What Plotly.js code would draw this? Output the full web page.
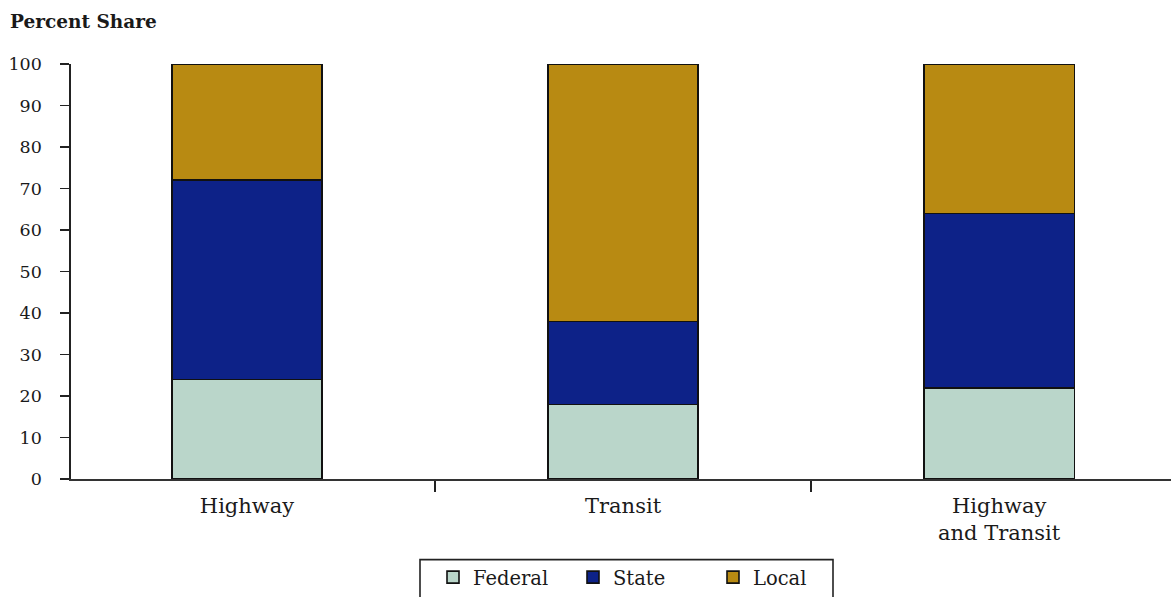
<!DOCTYPE html>
<html>
<head>
<meta charset="utf-8">
<script src="https://cdn.plot.ly/plotly-3.0.1.min.js"></script>
<style>
  html, body { margin: 0; padding: 0; background: #ffffff; }
  #chart { width: 1171px; height: 597px; }
</style>
</head>
<body>
<div id="chart"></div>
<script>
// Funding shares by mode (percent of total)
const categories = ["Highway", "Transit", "Highway<br>and Transit"];
const federalShare = [24, 18, 22];
const stateShare = [48, 20, 42];
const localShare = [28, 62, 36];
const yTickValues = [0, 10, 20, 30, 40, 50, 60, 70, 80, 90, 100];

const FONT = "DejaVu Serif, Liberation Serif, serif";
const INK = "#1a1a1a";

function barTrace(name, values, color) {
  return {
    type: "bar",
    name: name,
    x: categories,
    y: values,
    width: 0.4,
    marker: { color: color, line: { color: "#111111", width: 1.6 } },
    hoverinfo: "name+y"
  };
}

const data = [
  barTrace("Federal", federalShare, "#BAD6CA"),
  barTrace("State", stateShare, "#0D2288"),
  barTrace("Local", localShare, "#B88A12")
];

const layout = {
  width: 1171,
  height: 597,
  barmode: "stack",
  paper_bgcolor: "#ffffff",
  plot_bgcolor: "#ffffff",
  margin: { l: 71, r: 0, t: 64, b: 116 },
  font: { family: FONT, color: INK, size: 18 },
  title: {
    text: "<b>Percent Share</b>",
    font: { family: FONT, size: 18.5, color: INK },
    xref: "container", yref: "container",
    x: 10 / 1171, xanchor: "left",
    y: 1 - 22 / 597, yanchor: "middle"
  },
  xaxis: {
    type: "category",
    range: [-0.468, 2.457],
    showline: true, linecolor: "#333333", linewidth: 1.6,
    ticks: "outside", tickson: "boundaries", ticklen: 11, tickwidth: 1.4, tickcolor: "#222222",
    ticklabelstandoff: 7,
    showgrid: false, zeroline: false,
    tickfont: { family: FONT, size: 21, color: INK }
  },
  xaxis2: {
    overlaying: "x", type: "linear",
    range: [-0.468, 2.457],
    tickmode: "array", tickvals: [0.5, 1.5],
    ticks: "inside", ticklen: 9, tickwidth: 1.4, tickcolor: "#222222",
    showticklabels: false, showgrid: false, zeroline: false, showline: false
  },
  yaxis: {
    range: [0, 100],
    tickmode: "array", tickvals: yTickValues,
    showline: true, linecolor: "#222222", linewidth: 1.6,
    ticks: "outside", ticklen: 9, tickwidth: 1.4, tickcolor: "#222222",
    ticklabelstandoff: 15,
    showgrid: false, zeroline: false,
    tickfont: { family: FONT, size: 17.5, color: INK }
  },
  yaxis2: {
    overlaying: "y",
    range: [0, 100],
    tickmode: "array", tickvals: yTickValues,
    ticks: "inside", ticklen: 11, tickwidth: 1.4, tickcolor: "#222222",
    showticklabels: false, showgrid: false, zeroline: false, showline: false
  },
  showlegend: true,
  legend: {
    orientation: "h",
    x: (433 - 71) / 1100, xanchor: "left",
    y: -(580 - 481) / 417, yanchor: "middle",
    bgcolor: "rgba(0,0,0,0)",
    borderwidth: 0,
    entrywidth: 95, entrywidthmode: "pixels",
    traceorder: "normal",
    font: { family: FONT, size: 19.5, color: INK }
  },
  shapes: [
    {
      type: "rect", xref: "paper", yref: "paper",
      x0: (420 - 71) / 1100, x1: (833 - 71) / 1100,
      y0: -(562 - 481) / 417, y1: -(602 - 481) / 417,
      line: { color: "#222222", width: 1.6 },
      fillcolor: "rgba(0,0,0,0)"
    }
  ]
};

Plotly.newPlot("chart", data, layout, { displayModeBar: false, staticPlot: true });
</script>
</body>
</html>
